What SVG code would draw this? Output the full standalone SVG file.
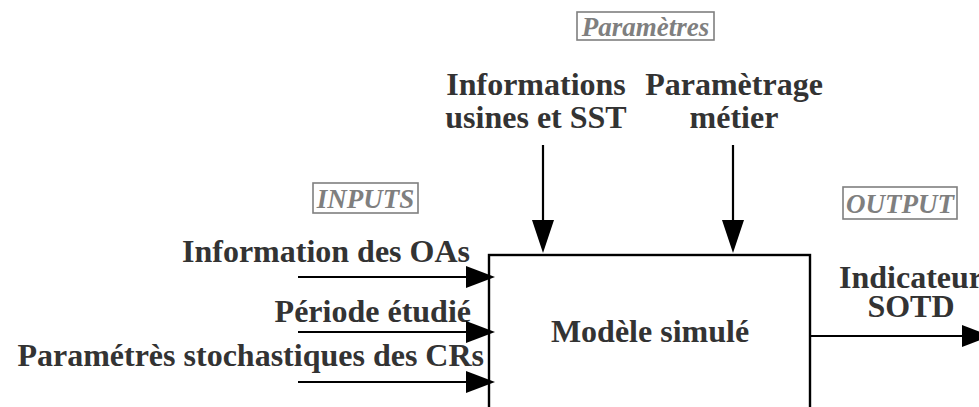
<svg xmlns="http://www.w3.org/2000/svg" width="979" height="407" viewBox="0 0 979 407">
<style>
.lbl{font-family:"Liberation Serif","Times New Roman",serif;font-weight:bold;font-size:32px;fill:#333333}
.tag{font-family:"Liberation Serif","Times New Roman",serif;font-weight:bold;font-style:italic;font-size:27px;fill:#7f7f7f}
.tagbox{fill:none;stroke:#7f7f7f;stroke-width:1.6}
.conn{stroke:#000;stroke-width:2.2;fill:none}
.head{fill:#000}
</style>
<rect width="979" height="407" fill="#ffffff"/>
<g id="tag-parametres"><rect class="tagbox" x="577" y="12" width="137" height="28"/><text class="tag" x="645.5" y="36" text-anchor="middle">Paramètres</text></g>
<g id="tag-inputs"><rect class="tagbox" x="313" y="183" width="105" height="30"/><text class="tag" x="365.5" y="208" text-anchor="middle">INPUTS</text></g>
<g id="tag-output"><rect class="tagbox" x="843" y="187" width="114" height="32"/><text class="tag" x="900" y="213" text-anchor="middle">OUTPUT</text></g>
<g id="model"><rect x="489" y="255" width="321" height="170" fill="#ffffff" stroke="#000" stroke-width="2.4"/><text class="lbl" x="650" y="342" text-anchor="middle">Modèle simulé</text></g>
<g id="ctrl-usines"><text class="lbl" x="536" y="95" text-anchor="middle">Informations</text><text class="lbl" x="536" y="128" text-anchor="middle">usines et SST</text></g>
<g id="ctrl-metier"><text class="lbl" x="734" y="95" text-anchor="middle">Paramètrage</text><text class="lbl" x="734" y="128" text-anchor="middle">métier</text></g>
<g id="in-oas"><text class="lbl" x="470" y="262" text-anchor="end">Information des OAs</text></g>
<g id="in-periode"><text class="lbl" x="471" y="322" text-anchor="end">Période étudié</text></g>
<g id="in-stoch"><text class="lbl" x="484" y="366" text-anchor="end">Paramétrès stochastiques des CRs</text></g>
<g id="out-sotd"><text class="lbl" x="911" y="288" text-anchor="middle">Indicateur</text><text class="lbl" x="911" y="317" text-anchor="middle">SOTD</text></g>
<g id="connectors">
<line class="conn" x1="543" y1="145" x2="543" y2="225"/><polygon class="head" points="532,220 554,220 543,253"/>
<line class="conn" x1="733" y1="145" x2="733" y2="225"/><polygon class="head" points="722,220 744,220 733,253"/>
<line class="conn" x1="298" y1="277" x2="470" y2="277"/><polygon class="head" points="466,266 466,288 495,277"/>
<line class="conn" x1="298" y1="332" x2="470" y2="332"/><polygon class="head" points="466,321 466,343 495,332"/>
<line class="conn" x1="298" y1="382" x2="470" y2="382"/><polygon class="head" points="466,371 466,393 495,382"/>
<line class="conn" x1="810" y1="336" x2="965" y2="336"/><polygon class="head" points="962,325 962,347 991,336"/>
</g>
</svg>
